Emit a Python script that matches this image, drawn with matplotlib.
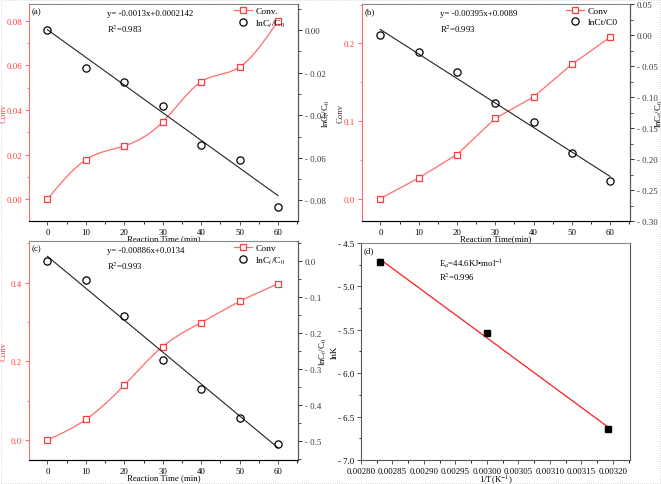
import numpy as np
import matplotlib
matplotlib.use('Agg')
import matplotlib.pyplot as plt
from matplotlib.ticker import MultipleLocator, FuncFormatter
from matplotlib.patches import Rectangle

plt.rcParams['font.family'] = ['Liberation Serif', 'DejaVu Serif']
plt.rcParams['font.size'] = 6.3
plt.rcParams['mathtext.fontset'] = 'stix'

# data
time = [0, 10, 20, 30, 40, 50, 60]

conv_a = [0.0, 0.0177, 0.0239, 0.0347, 0.0527, 0.0593, 0.0800]
ln_a = [0.0, -0.0179, -0.0242, -0.0356, -0.0541, -0.0608, -0.0829]
fit_a = (-0.0013, 0.0002142)

conv_b = [0.0, 0.0267, 0.0568, 0.1034, 0.131, 0.173, 0.208]
ln_b = [0.0, -0.028, -0.059, -0.110, -0.141, -0.191, -0.235]
fit_b = (-0.00395, 0.0089)

conv_c = [0.0, 0.0524, 0.1395, 0.2376, 0.2985, 0.352, 0.3966]
ln_c = [0.0, -0.0527, -0.151, -0.274, -0.356, -0.435, -0.507]
fit_c = (-0.00886, 0.0134)

inv_T = [0.0028302, 0.0030002, 0.0031914]
ln_k = [-4.72, -5.532, -6.646]

RED = '#ff3b3b'
LRED = '#ff6a6a'
W, H = 661, 485


def spline(x, y, n=200):
    # natural cubic spline, only used to draw the smooth curve through the points
    x = np.asarray(x, float)
    y = np.asarray(y, float)
    m = len(x)
    h = np.diff(x)
    A = np.zeros((m, m))
    r = np.zeros(m)
    A[0, 0] = A[-1, -1] = 1
    for i in range(1, m - 1):
        A[i, i - 1] = h[i - 1]
        A[i, i] = 2 * (h[i - 1] + h[i])
        A[i, i + 1] = h[i]
        r[i] = 6 * ((y[i + 1] - y[i]) / h[i] - (y[i] - y[i - 1]) / h[i - 1])
    M = np.linalg.solve(A, r)
    xs = np.linspace(x[0], x[-1], n)
    k = np.clip(np.searchsorted(x, xs) - 1, 0, m - 2)
    t0 = x[k + 1] - xs
    t1 = xs - x[k]
    hk = h[k]
    ys = (M[k] * t0**3 + M[k + 1] * t1**3) / (6 * hk) \
        + (y[k] / hk - M[k] * hk / 6) * t0 + (y[k + 1] / hk - M[k + 1] * hk / 6) * t1
    return xs, ys


def neg_fmt(dec):
    def f(v, p):
        if abs(v) < 1e-12:
            v = 0.0
        s = '%.*f' % (dec, abs(v))
        return ('- ' + s) if v < 0 else s
    return FuncFormatter(f)


def box(l, t, r, b):
    return [l / W, 1 - b / H, (r - l) / W, (b - t) / H]


def style(ax, left_red=True):
    ax.spines['top'].set_color('#888888')
    ax.spines['right'].set_color('#555555')
    ax.spines['bottom'].set_color('#555555')
    if left_red:
        ax.spines['left'].set_color(LRED)
        ax.tick_params(axis='y', which='both', colors=LRED, labelcolor=RED)
    else:
        ax.spines['left'].set_color('#555555')
    ax.tick_params(which='both', direction='out', top=False, right=False, pad=2)
    ax.tick_params(which='major', length=3, width=0.7)
    ax.tick_params(which='minor', length=1.8, width=0.6)
    for s in ax.spines.values():
        s.set_linewidth(0.8)


def kinetic(rect, conv, ln, fit, smooth, ylim_l, ylim_r, lstep, rstep, ldec, rdec,
            tag, eq, r2, leg1, leg2, xlab, ylab_color, lx, rx):
    ax = fig.add_axes(rect)
    style(ax)
    ax2 = ax.twinx()
    ax2.spines['top'].set_visible(False)
    ax2.spines['left'].set_visible(False)
    ax2.spines['right'].set_color('#555555')
    ax2.spines['right'].set_linewidth(0.8)
    ax2.tick_params(which='both', direction='out', colors='#333333', pad=2)
    ax2.tick_params(which='major', length=3, width=0.7)
    ax2.tick_params(which='minor', length=1.8, width=0.6)

    if smooth:
        xs, ys = spline(time, conv)
        ax.plot(xs, ys, color=LRED, lw=0.9)
    else:
        ax.plot(time, conv, color=LRED, lw=0.9)
    ax.plot(time, conv, ls='none', marker='s', ms=4.6, mfc='white', mec=RED, mew=0.9)
    h1, = ax.plot([], [], color=LRED, lw=0.9, marker='s', ms=4.6, mfc='white', mec=RED, mew=0.9)

    tt = np.array([time[0], time[-1]], float)
    ax2.plot(tt, fit[0] * tt + fit[1], color='#222222', lw=0.8)
    h2, = ax2.plot(time, ln, ls='none', marker='o', ms=5.2, mfc='none', mec='black', mew=0.9)

    ax.set_xlim(-4.8, 65.2)
    ax.set_ylim(*ylim_l)
    ax2.set_ylim(*ylim_r)
    ax.xaxis.set_major_locator(MultipleLocator(10))
    ax.xaxis.set_minor_locator(MultipleLocator(5))
    ax.yaxis.set_major_locator(MultipleLocator(lstep))
    ax.yaxis.set_minor_locator(MultipleLocator(lstep / 2))
    ax.yaxis.set_major_formatter(neg_fmt(ldec))
    ax2.yaxis.set_major_locator(MultipleLocator(rstep))
    ax2.yaxis.set_minor_locator(MultipleLocator(rstep / 2))
    ax2.yaxis.set_major_formatter(neg_fmt(rdec))
    ax.tick_params(axis='x', colors='#555555', labelcolor='black')

    ax.text(0.01, 0.985, tag, transform=ax.transAxes, ha='left', va='top')
    ax.text(0.29, 0.975, eq, transform=ax.transAxes, ha='left', va='top')
    ax.text(0.29, 0.915, r2, transform=ax.transAxes, ha='left', va='top')
    ax.legend([h1, h2], [leg1, leg2], loc='upper right', frameon=False,
              bbox_to_anchor=(0.975, 1.015), handlelength=1.9, handletextpad=0.4,
              labelspacing=0.25, borderaxespad=0.2, fontsize=6.8)
    ax.set_xlabel(xlab, labelpad=-1)
    ax.set_ylabel('Conv', color=ylab_color)
    ax.yaxis.set_label_coords(lx, 0.5)
    ax2.set_ylabel(r'lnC$_t$/C$_0$')
    ax2.yaxis.set_label_coords(rx, 0.5)
    return ax


fig = plt.figure(figsize=(W / 100, H / 100), dpi=100)

kinetic(box(29, 5, 298, 222), conv_a, ln_a, fit_a, True,
        (-0.0098, 0.0876), (-0.0897, 0.0123), 0.02, 0.02, 2, 2,
        '(a)', 'y= -0.0013x+0.0002142', r'R$^2$=0.983', 'Conv.', r'lnC$_t$/C$_0$',
        'Reaction Time (min)', RED, -0.078, 1.085)

kinetic(box(362, 5, 630, 222), conv_b, ln_b, fit_b, False,
        (-0.0288, 0.2508), (-0.30, 0.05), 0.1, 0.05, 1, 2,
        '(b)', 'y= -0.00395x+0.0089', r'R$^2$=0.993', 'Conv', 'lnCt/C0',
        'Reaction Time(min)', '#333333', -0.063, 1.088)

kinetic(box(29, 242, 298, 461), conv_c, ln_c, fit_c, True,
        (-0.0507, 0.5057), (-0.552, 0.056), 0.2, 0.1, 1, 1,
        '(c)', 'y= -0.00886x+0.0134', r'R$^2$=0.993', 'Conv', r'lnC$_t$/C$_0$',
        'Reaction Time (min)', RED, -0.078, 1.075)

# (d) Arrhenius plot
axd = fig.add_axes(box(361, 244, 630, 461))
style(axd, left_red=False)
coef = np.polyfit(inv_T, ln_k, 1)
xx = np.array([inv_T[0], inv_T[-1]])
axd.plot(xx, np.polyval(coef, xx), color='#ff1a1a', lw=0.9)
axd.plot(inv_T, ln_k, ls='none', marker='s', ms=5, color='black')
axd.set_xlim(0.0028, 0.003227)
axd.set_ylim(-7.0, -4.5)
axd.xaxis.set_major_locator(MultipleLocator(0.00005))
axd.xaxis.set_minor_locator(MultipleLocator(0.000025))
axd.xaxis.set_major_formatter(FuncFormatter(lambda v, p: '%.5f' % v))
axd.yaxis.set_major_locator(MultipleLocator(0.5))
axd.yaxis.set_minor_locator(MultipleLocator(0.25))
axd.yaxis.set_major_formatter(neg_fmt(1))
axd.tick_params(colors='#555555', labelcolor='black')
axd.text(0.01, 0.985, '(d)', transform=axd.transAxes, ha='left', va='top')
axd.text(0.29, 0.935, r'E$_a$=44.6KJ•mol$^{-1}$', transform=axd.transAxes, ha='left', va='top')
axd.text(0.29, 0.875, r'R$^2$=0.996', transform=axd.transAxes, ha='left', va='top')
axd.set_xlabel(r'1/T(K$^{-1}$)', labelpad=-2)
axd.set_ylabel('lnK')
axd.yaxis.set_label_coords(-0.082, 0.5)

fig.patches.append(Rectangle((0.001, 0.003), 0.998, 0.995, transform=fig.transFigure,
                             fill=False, ls=':', lw=0.6, ec='#cccccc'))

fig.savefig('out.png', dpi=100)
